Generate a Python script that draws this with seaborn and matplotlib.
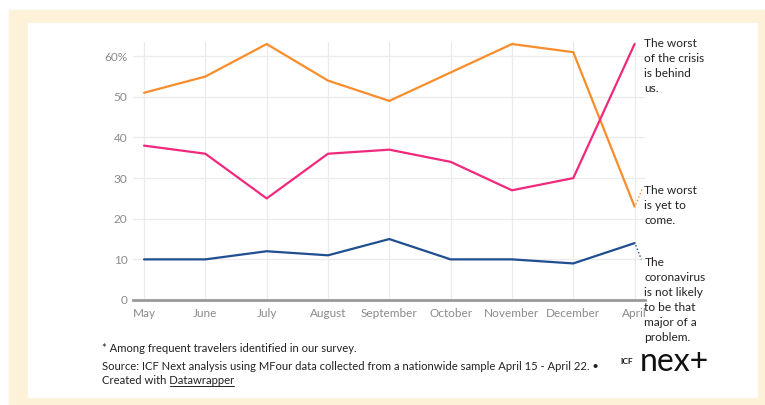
import pandas as pd
import matplotlib.pyplot as plt
import seaborn as sns
from matplotlib.patches import Rectangle
from matplotlib.lines import Line2D

# dados
months = ["May", "June", "July", "August", "September", "October",
          "November", "December", "April"]
yet_to_come = [51, 55, 63, 54, 49, 56, 63, 61, 23]
behind_us = [38, 36, 25, 36, 37, 34, 27, 30, 63]
not_major = [10, 10, 12, 11, 15, 10, 10, 9, 14]
y_ticks = [0, 10, 20, 30, 40, 50, 60]
y_labels = ["0", "10", "20", "30", "40", "50", "60%"]

series = {
    "The worst\nis yet to\ncome.": yet_to_come,
    "The worst\nof the crisis\nis behind\nus.": behind_us,
    "The\ncoronavirus\nis not likely\nto be that\nmajor of a\nproblem.": not_major,
}
colors = ["#F98D2B", "#F0287E", "#1F4E91"]

df = pd.DataFrame([
    {"month": m, "idx": i, "series": name, "value": v}
    for name, vals in series.items()
    for i, (m, v) in enumerate(zip(months, vals))
])

sns.set_style("white")
plt.rcParams["font.family"] = ["Lato", "DejaVu Sans"]

fig = plt.figure(figsize=(7.65, 4.05), dpi=100)
fig.patch.set_facecolor("white")

# moldura creme
fig.patches.append(Rectangle((9 / 765, 0), 1 - 9 / 765, 1 - 10 / 405,
                             transform=fig.transFigure, color="#FDF1D8", zorder=-10))
fig.patches.append(Rectangle((28 / 765, 8 / 405), (757 - 28) / 765, 374 / 405,
                             transform=fig.transFigure, color="white", zorder=-9))

ax = fig.add_axes([133 / 765, 1 - 300 / 405, (645 - 133) / 765, (300 - 42) / 405])
ax.set_facecolor("none")

sns.lineplot(data=df, x="idx", y="value", hue="series", palette=colors,
             linewidth=1.6, legend=False, ax=ax)

ax.set_xlim(-0.18, 8.17)
ax.set_ylim(0, 63.5)
ax.set_xticks(range(len(months)))
ax.set_xticklabels(months)
ax.set_yticks(y_ticks)
ax.set_yticklabels(y_labels)
ax.tick_params(axis="both", length=0, labelsize=8.5, labelcolor="#8a8a8a")
ax.tick_params(axis="x", pad=6)
ax.tick_params(axis="y", pad=4)
ax.set_xlabel("")
ax.set_ylabel("")
for s in ["top", "right", "left"]:
    ax.spines[s].set_visible(False)
ax.spines["bottom"].set_color("#999999")
ax.spines["bottom"].set_linewidth(2)

for y in y_ticks[1:]:
    ax.axhline(y, color="#ebebeb", linewidth=0.9, zorder=0)
for i in range(len(months)):
    ax.axvline(i, color="#ebebeb", linewidth=0.9, zorder=0)

# rótulos das linhas
last = len(months) - 1
lab_kw = dict(fontsize=8.6, color="#222222", va="top", ha="left",
              linespacing=1.45, clip_on=False)
ax.text(last + 0.16, 64.6, list(series.keys())[1], **lab_kw)
ax.text(last + 0.16, 28.3, list(series.keys())[0], **lab_kw)
ax.text(last + 0.16, 10.6, list(series.keys())[2], **lab_kw)
ax.plot([last + 0.02, last + 0.13], [yet_to_come[-1] + 0.5, yet_to_come[-1] + 4.5],
        ls=":", color=colors[0], lw=1, clip_on=False)
ax.plot([last + 0.02, last + 0.11], [not_major[-1] - 0.5, not_major[-1] - 4],
        ls=":", color=colors[2], lw=1, clip_on=False)

# rodapé
foot_kw = dict(fontsize=8.1, color="#222222", va="center")
fig.text(102 / 765, 1 - 349 / 405, "* Among frequent travelers identified in our survey.", **foot_kw)
fig.text(102 / 765, 1 - 367 / 405,
         "Source: ICF Next analysis using MFour data collected from a nationwide sample April 15 - April 22. \u2022",
         **foot_kw)
fig.text(102 / 765, 1 - 380 / 405, "Created with Datawrapper", **foot_kw)
fig.lines.append(Line2D([170 / 765, 234 / 765], [1 - 386 / 405, 1 - 386 / 405],
                        transform=fig.transFigure, color="#222222", lw=0.7))

# logo
fig.text(620 / 765, 1 - 362 / 405, "ICF", fontsize=6, fontweight="bold",
         color="#111111", va="center")
fig.text(640 / 765, 1 - 362 / 405, "nex+", fontsize=23, color="#111111", va="center")

fig.savefig("out.png", dpi=100)
